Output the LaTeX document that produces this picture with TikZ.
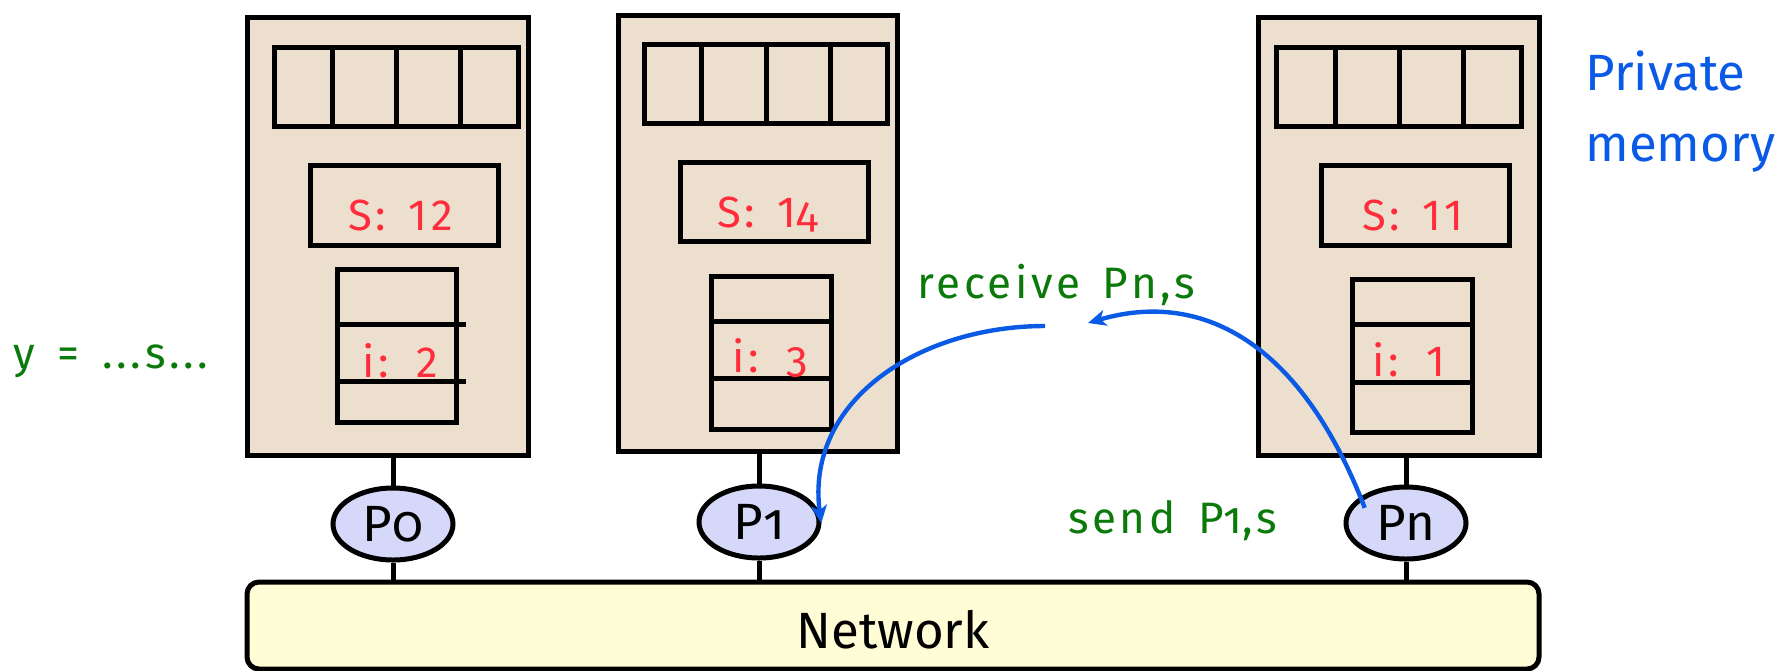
\documentclass[tikz,border=0pt]{standalone}
\usepackage{fontspec}
\setmainfont{Fira Sans}
\newfontfamily\osf{Fira Sans}[Numbers=OldStyle]
\newfontfamily\msgfont{Fira Sans}[LetterSpace=8]
\newfontfamily\msgosf{Fira Sans}[LetterSpace=8, Numbers=OldStyle]
\newfontfamily\valfont{Fira Sans}[LetterSpace=8, WordSpace=1.5]
\newfontfamily\valosf{Fira Sans}[LetterSpace=8, WordSpace=1.5, Numbers=OldStyle]
\usetikzlibrary{arrows.meta,shapes.geometric,fit}
\definecolor{boxfill}{HTML}{EDDFCD}
\definecolor{procfill}{HTML}{D6D8FA}
\definecolor{netfill}{HTML}{FFFDD6}
\definecolor{valred}{HTML}{FF2D3C}
\definecolor{msggreen}{HTML}{0B7A0B}
\definecolor{arrowblue}{HTML}{0A5AE6}
\tikzset{
  mem/.style={draw=black, line width=2.5pt, fill=boxfill, inner sep=0pt, rectangle},
  cell/.style={draw=black, line width=2.5pt, inner sep=0pt, rectangle},
  rule/.style={draw=black, line width=2.5pt},
  stem/.style={draw=black, line width=2.5pt},
  proc/.style={ellipse, draw=black, line width=2.5pt, fill=procfill, minimum width=60pt, minimum height=36pt, inner sep=0pt, font=\fontsize{25.5}{30}\selectfont},
  net/.style={draw=black, line width=2.5pt, fill=netfill, rounded corners=6pt, inner sep=0pt, rectangle},
  val/.style={text=valred, anchor=base west, inner sep=0pt, font=\fontsize{21.8}{26}\valfont},
  msgtext/.style={text=msggreen, anchor=base west, inner sep=0pt, font=\fontsize{22}{26}\msgfont},
  msg/.style={draw=arrowblue, line width=2.2pt, -{Stealth[length=9pt,width=8pt,inset=2.5pt]}},
}
\begin{document}
\begin{tikzpicture}[x=0.5pt,y=-0.5pt]
\useasboundingbox (0,0) rectangle (1787,670);

% ---------- memory box 0 ----------
\node[mem, fit={(247,17) (528,455)}] (box0) {};
\node[cell, fit={(274,47) (518,126)}] (arr0) {};
\foreach \x in {332,396,460} \draw[rule] (\x,47) -- (\x,129);
\node[cell, fit={(310,165) (498,245)}] (sbox0) {};
\node[cell, fit={(337,269) (456,422)}] (ibox0) {};
\draw[rule] (340,324) -- (466,324);
\draw[rule] (340,381) -- (466,381);
\node[val] (s0) at (348,230) {S: 12};
\node[val] (i0) at (362,377) {i: 2};

% ---------- memory box 1 ----------
\node[mem, fit={(618,15) (897,451)}] (box1) {};
\node[cell, fit={(644,44) (887,123)}] (arr1) {};
\foreach \x in {701,766,830} \draw[rule] (\x,44) -- (\x,126);
\node[cell, fit={(680,162) (868,241)}] (sbox1) {};
\node[cell, fit={(711,276) (831,429)}] (ibox1) {};
\draw[rule] (711,321) -- (831,321);
\draw[rule] (711,378) -- (831,378);
\node[val] (s1) at (717,227) {S: 1{\valosf 4}};
\node[val] (i1) at (732,372) {i: {\valosf 3}};

% ---------- memory box n ----------
\node[mem, fit={(1258,17) (1539,455)}] (boxn) {};
\node[cell, fit={(1276,47) (1521,126)}] (arrn) {};
\foreach \x in {1335,1399,1463} \draw[rule] (\x,47) -- (\x,129);
\node[cell, fit={(1321,165) (1509,245)}] (sboxn) {};
\node[cell, fit={(1352,279) (1472,432)}] (iboxn) {};
\draw[rule] (1352,324) -- (1474,324);
\draw[rule] (1352,382) -- (1474,382);
\node[val] (sn) at (1362,230) {S: 11};
\node[val] (in) at (1372,376) {i: 1};

% ---------- network ----------
\node[net, fit={(247,582) (1539,669)}] (net) {};
\node[anchor=base, inner sep=0pt, font=\fontsize{25.5}{30}\selectfont] (netlabel) at (893,648) {Network};

% ---------- processors ----------
\node[proc] (P0) at (393,524) {P{\osf 0}};
\node[proc] (P1) at (759,522) {P{\osf 1}};
\node[proc] (Pn) at (1406,523) {Pn};

\draw[stem] (P0.north) -- (P0.north |- box0.south);
\draw[stem] (P1.north) -- (P1.north |- box1.south);
\draw[stem] (Pn.north) -- (Pn.north |- boxn.south);
\draw[stem] (P0.south) -- (P0.south |- net.north);
\draw[stem] (P1.south) -- (P1.south |- net.north);
\draw[stem] (Pn.south) -- (Pn.south |- net.north);

% ---------- labels ----------
\node[msgtext] (ylabel) at (13,368) {y = ...s...};
\node[msgtext] (recv) at (917,298) {receive Pn,s};
\node[msgtext] (send) at (1068,533) {send P{\msgosf 1},s};
\node[text=arrowblue, anchor=base west, inner sep=0pt, align=left, font=\fontsize{25.5}{35.5}\selectfont] (priv) at (1585,161) {Private\\memory};

% ---------- messages ----------
\coordinate (recvend) at (1088,323);
\coordinate (recvstart) at (1045,326);
\draw[msg, shorten <=-6pt] (Pn.150) .. controls (1300,340) and (1200,290) .. (recvend);
\draw[msg, shorten >=-5pt] (recvstart) .. controls (920,326) and (805,400) .. (P1.8);
\end{tikzpicture}
\end{document}
